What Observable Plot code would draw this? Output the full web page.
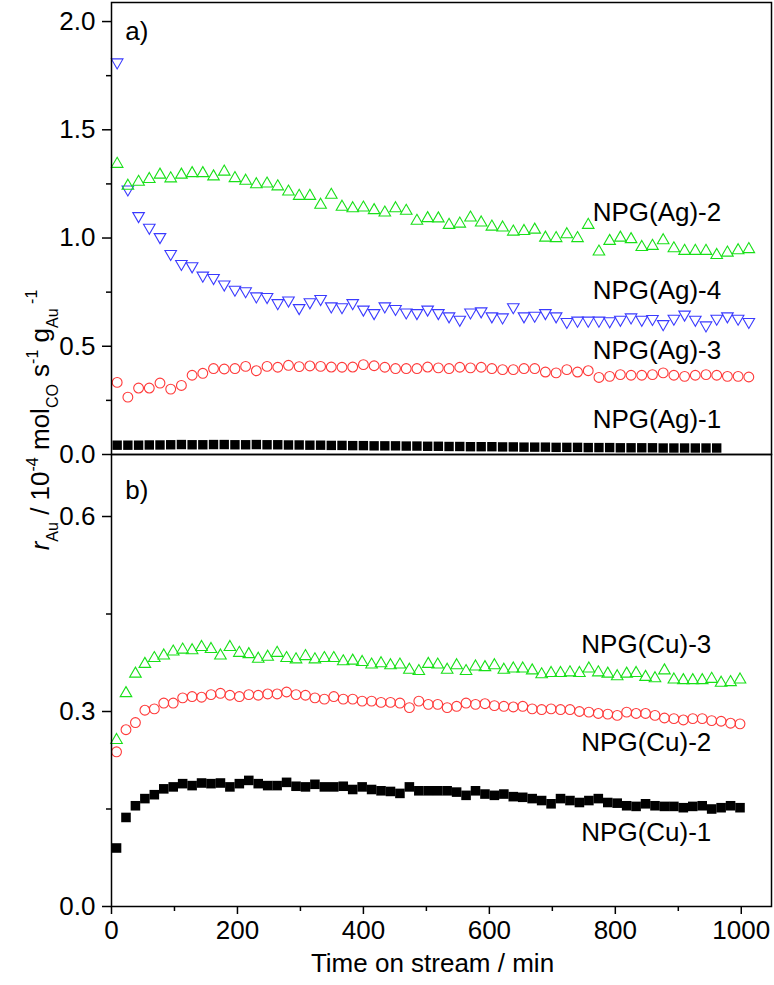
<!DOCTYPE html>
<html><head><meta charset="utf-8">
<script src="https://cdn.jsdelivr.net/npm/d3@7"></script>
<script src="https://cdn.jsdelivr.net/npm/@observablehq/plot@0.6"></script>
<style>
body{margin:0;background:#fff;}
#chart{position:relative;width:774px;height:985px;overflow:hidden;background:#fff;}
#chart svg{position:absolute;left:0;}
</style></head><body><div id="chart"></div>
<script>
// ---- data ----
const timesA = [9,26,43,60,77,94,111,128,145,162,179,196,213,230,247,264,281,298,315,332,349,366,383,400,417,434,451,468,485,502,519,536,553,570,587,604,621,638,655,672,689,706,723,740,757,774,791,808,825,842,859,876,893,910,927,944,961,978,995,1012];
const timesB = [8,23,38,53,68,83,98,113,128,143,158,173,188,203,218,233,248,263,278,293,308,323,338,353,368,383,398,413,428,443,458,473,488,503,518,533,548,563,578,593,608,623,638,653,668,683,698,713,728,743,758,773,788,803,818,833,848,863,878,893,908,923,938,953,968,983,998];

const ag1 = [0.043,0.043,0.043,0.044,0.044,0.045,0.046,0.045,0.045,0.046,
 0.046,0.045,0.045,0.046,0.045,0.045,0.044,0.044,0.043,0.043,
 0.042,0.042,0.041,0.041,0.040,0.040,0.040,0.039,0.039,0.038,
 0.038,0.037,0.037,0.036,0.036,0.036,0.035,0.035,0.034,0.034,
 0.034,0.033,0.033,0.033,0.032,0.032,0.032,0.031,0.031,0.031,
 0.031,0.030,0.030,0.030,0.030,0.030,0.030];
const ag2 = [1.342,1.241,1.259,1.272,1.292,1.275,1.292,1.299,1.299,1.284,
 1.306,1.276,1.264,1.248,1.251,1.238,1.214,1.194,1.194,1.153,
 1.199,1.144,1.137,1.140,1.128,1.117,1.137,1.125,1.079,1.091,
 1.090,1.060,1.066,1.094,1.071,1.052,1.048,1.029,1.032,1.038,
 1.001,0.999,1.017,0.999,1.060,0.937,0.986,1.001,0.994,0.958,
 0.963,0.989,0.952,0.940,0.940,0.940,0.921,0.932,0.943,0.948];
const ag3 = [0.333,0.265,0.307,0.307,0.330,0.302,0.319,0.366,0.375,0.397,
 0.395,0.397,0.407,0.387,0.407,0.403,0.412,0.406,0.409,0.407,
 0.404,0.403,0.404,0.415,0.410,0.403,0.397,0.397,0.397,0.404,
 0.400,0.397,0.403,0.400,0.403,0.397,0.392,0.392,0.397,0.397,
 0.381,0.377,0.392,0.381,0.387,0.356,0.361,0.369,0.366,0.366,
 0.369,0.377,0.366,0.361,0.366,0.369,0.366,0.361,0.361,0.358];
const ag4 = [1.812,1.225,1.102,1.048,1.005,0.927,0.881,0.870,0.827,0.816,
 0.786,0.762,0.755,0.731,0.728,0.700,0.712,0.677,0.704,0.719,
 0.685,0.681,0.700,0.670,0.654,0.685,0.673,0.657,0.654,0.670,
 0.654,0.639,0.623,0.657,0.662,0.639,0.634,0.681,0.639,0.642,
 0.654,0.639,0.613,0.619,0.619,0.619,0.616,0.623,0.634,0.623,
 0.627,0.603,0.628,0.647,0.623,0.597,0.628,0.639,0.628,0.613];

const cu1 = [0.090,0.137,0.155,0.166,0.172,0.181,0.184,0.189,0.186,0.190,
 0.189,0.190,0.184,0.189,0.194,0.189,0.186,0.186,0.191,0.185,
 0.184,0.188,0.184,0.184,0.185,0.180,0.184,0.180,0.178,0.177,
 0.174,0.184,0.178,0.178,0.178,0.178,0.176,0.171,0.178,0.173,
 0.171,0.173,0.169,0.168,0.166,0.163,0.158,0.166,0.163,0.160,
 0.163,0.166,0.160,0.159,0.155,0.154,0.158,0.155,0.154,0.154,
 0.152,0.154,0.155,0.150,0.152,0.155,0.152];
const cu2 = [0.238,0.272,0.283,0.302,0.304,0.313,0.313,0.321,0.323,0.322,
 0.326,0.328,0.325,0.323,0.326,0.325,0.327,0.327,0.330,0.326,
 0.325,0.321,0.319,0.323,0.319,0.319,0.316,0.316,0.314,0.314,
 0.313,0.306,0.316,0.311,0.311,0.306,0.308,0.313,0.311,0.312,
 0.309,0.308,0.307,0.308,0.304,0.303,0.304,0.303,0.303,0.300,
 0.299,0.297,0.296,0.294,0.299,0.297,0.297,0.294,0.290,0.289,
 0.287,0.289,0.289,0.286,0.285,0.282,0.281];
const cu3 = [0.256,0.328,0.358,0.373,0.382,0.386,0.392,0.395,0.394,0.399,
 0.396,0.386,0.399,0.390,0.388,0.381,0.384,0.390,0.382,0.380,
 0.385,0.380,0.382,0.382,0.377,0.378,0.376,0.372,0.374,0.371,
 0.372,0.364,0.362,0.373,0.372,0.364,0.371,0.362,0.369,0.368,
 0.371,0.364,0.366,0.366,0.363,0.357,0.359,0.359,0.360,0.359,
 0.366,0.360,0.358,0.354,0.358,0.359,0.353,0.351,0.363,0.349,
 0.348,0.348,0.348,0.350,0.344,0.345,0.349];

const yTopMajor = [0, 0.5, 1.0, 1.5, 2.0];
const yTopMinor = [0.25, 0.75, 1.25, 1.75];
const yBotMajor = [0, 0.3, 0.6];
const yBotMinor = [0.15, 0.45];
const xMajor = [0, 200, 400, 600, 800, 1000];
const xMinor = [100, 300, 500, 700, 900];
const labelsTop = ["NPG(Ag)-2", "NPG(Ag)-4", "NPG(Ag)-3", "NPG(Ag)-1"];
const labelsBot = ["NPG(Cu)-3", "NPG(Cu)-2", "NPG(Cu)-1"];
const xTitle = "Time on stream / min";

// ---- drawing ----
const font = "'Liberation Sans', Arial, sans-serif";
const FS = 26;
const RED = "#ff3a3a", GREEN = "#18e018", BLUE = "#3a3aff";
const series = (times, vals) => vals.map((v, i) => ({t: times[i], v}));
const triDown = {draw(ctx, size) {
  const y = Math.sqrt(size / (Math.sqrt(3) * 3));
  ctx.moveTo(0, 2 * y); ctx.lineTo(-Math.sqrt(3) * y, -y); ctx.lineTo(Math.sqrt(3) * y, -y); ctx.closePath();
}};
const lbl = (text, x, y) => Plot.text([text], {x, y, text: d => d, textAnchor: "start", fontSize: FS, fill: "black"});
const style = {fontFamily: font, fontSize: FS + "px", background: "transparent", overflow: "visible", color: "black"};

const topPlot = Plot.plot({
  width: 774, height: 454, marginLeft: 111, marginRight: 3, marginTop: 2, marginBottom: 0,
  style,
  x: {domain: [0, 1048], axis: null},
  y: {domain: [0, 2.088]},
  marks: [
    Plot.axisY(yTopMajor, {tickSize: 9, tickPadding: 7, tickFormat: d3.format(".1f"), label: null, fontSize: FS, strokeWidth: 1.5}),
    Plot.axisY(yTopMinor, {tickSize: 5, tickFormat: () => "", label: null, strokeWidth: 1.5}),
    Plot.dot(series(timesA, ag1), {x: "t", y: "v", symbol: "square", r: 5.3, fill: "black"}),
    Plot.dot(series(timesA, ag3), {x: "t", y: "v", symbol: "circle", r: 4.9, stroke: RED, fill: "none", strokeWidth: 1.1}),
    Plot.dot(series(timesA, ag4), {x: "t", y: "v", symbol: triDown, r: 4.3, stroke: BLUE, fill: "none", strokeWidth: 1.1}),
    Plot.dot(series(timesA, ag2), {x: "t", y: "v", symbol: "triangle", r: 4.3, stroke: GREEN, fill: "none", strokeWidth: 1.1}),
    lbl("a)", 22, 1.954),
    lbl(labelsTop[0], 764, 1.116),
    lbl(labelsTop[1], 764, 0.759),
    lbl(labelsTop[2], 764, 0.481),
    lbl(labelsTop[3], 764, 0.162),
    Plot.frame({stroke: "black", strokeWidth: 1.5})
  ]
});

const botPlot = Plot.plot({
  width: 774, height: 531, marginLeft: 111, marginRight: 3, marginTop: 0, marginBottom: 79,
  style,
  x: {domain: [0, 1048]},
  y: {domain: [0, 0.6954]},
  marks: [
    Plot.axisY(yBotMajor, {tickSize: 9, tickPadding: 7, tickFormat: d3.format(".1f"), label: null, fontSize: FS, strokeWidth: 1.5}),
    Plot.axisY(yBotMinor, {tickSize: 5, tickFormat: () => "", label: null, strokeWidth: 1.5}),
    Plot.axisX(xMajor, {tickSize: 8, tickPadding: 6, tickFormat: d3.format("d"), label: null, fontSize: FS, strokeWidth: 1.5}),
    Plot.axisX(xMinor, {tickSize: 5, tickFormat: () => "", label: null, strokeWidth: 1.5}),
    Plot.dot(series(timesB, cu1), {x: "t", y: "v", symbol: "square", r: 5.4, fill: "black"}),
    Plot.dot(series(timesB, cu2), {x: "t", y: "v", symbol: "circle", r: 4.9, stroke: RED, fill: "none", strokeWidth: 1.1}),
    Plot.dot(series(timesB, cu3), {x: "t", y: "v", symbol: "triangle", r: 4.3, stroke: GREEN, fill: "none", strokeWidth: 1.1}),
    lbl("b)", 22, 0.64),
    lbl(labelsBot[0], 746, 0.403),
    lbl(labelsBot[1], 746, 0.252),
    lbl(labelsBot[2], 746, 0.114),
    Plot.text([xTitle], {frameAnchor: "bottom", dy: 57, dx: -9, text: d => d, fontSize: FS, lineAnchor: "middle", fill: "black"}),
    Plot.frame({stroke: "black", strokeWidth: 1.5})
  ]
});

const chart = document.getElementById("chart");
botPlot.style.top = "454px";
topPlot.style.top = "0px";
chart.appendChild(botPlot);
chart.appendChild(topPlot);

// y-axis title overlay
const ov = d3.select(chart).append("svg")
  .attr("width", 774).attr("height", 985)
  .style("top", "0px").style("pointer-events", "none").style("overflow", "visible");
const t = ov.append("text")
  .attr("transform", "translate(49,420) rotate(-90)")
  .attr("text-anchor", "middle")
  .attr("font-family", font).attr("font-size", FS).attr("fill", "black")
  .style("white-space", "pre");
const parts = [
  ["r", FS, 0, "italic"], ["Au", 16, 9], [" / 10", FS, -9], ["-4", 16, -11], [" mol", FS, 11],
  ["CO", 16, 9], [" s", FS, -9], ["-1", 16, -11], [" g", FS, 11], ["Au", 16, 9], [" -1", 16, -21]
];
for (const [txt, size, dy, fst] of parts) {
  const s = t.append("tspan").attr("font-size", size).attr("dy", dy).text(txt);
  if (fst) s.attr("font-style", fst);
}
</script></body></html>
